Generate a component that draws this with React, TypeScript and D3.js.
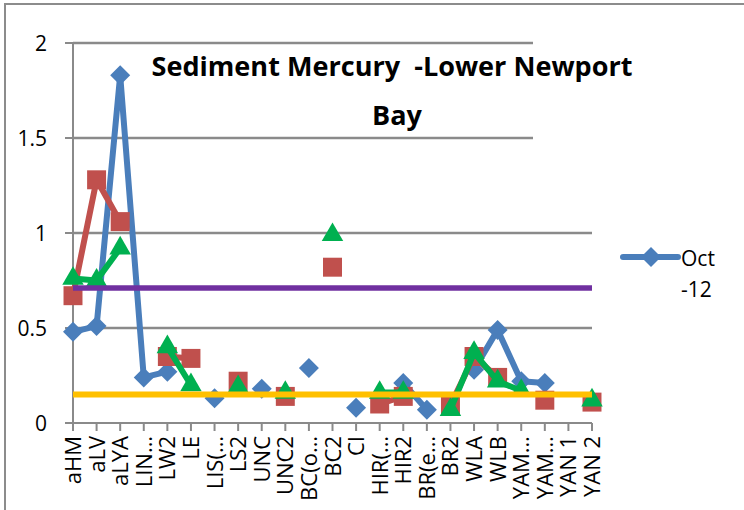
import * as d3 from "d3";

// sample sites along the x axis (index based, two YAM… labels repeat)
const categories = [
  "aHM", "aLV", "aLYA", "LIN…", "LW2", "LE", "LIS(…", "LS2", "UNC", "UNC2",
  "BC(o…", "BC2", "CI", "HIR(…", "HIR2", "BR(e…", "BR2", "WLA", "WLB",
  "YAM…", "YAM…", "YAN 1", "YAN 2",
];

// Oct-12 (blue diamonds)
const oct12 = [
  0.48, 0.51, 1.83, 0.24, 0.27, null, 0.13, null, 0.18, null,
  0.29, null, 0.08, null, 0.21, 0.07, null, 0.28, 0.49,
  0.22, 0.21, null, null,
];
// red squares
const seriesRed = [
  0.67, 1.28, 1.06, null, 0.35, 0.34, null, 0.22, null, 0.14,
  null, 0.82, null, 0.1, 0.14, null, 0.095, 0.35, 0.24,
  null, 0.12, null, 0.11,
];
// green triangles
const seriesGreen = [
  0.76, 0.75, 0.92, null, 0.4, 0.2, null, 0.19, null, 0.16,
  null, 0.99, null, 0.16, 0.16, null, 0.07, 0.37, 0.22,
  0.17, null, null, 0.12,
];

const yTicks = [0, 0.5, 1, 1.5, 2];
const purpleLevel = 0.71;
const yellowLevel = 0.15;

const FONT = "'Open Sans', 'Noto Sans', sans-serif";

const App = () => {
  const W = 744;
  const H = 510;
  const x = d3
    .scalePoint<number>()
    .domain(d3.range(categories.length))
    .range([73, 592]);
  const y = d3.scaleLinear().domain([0, 2]).range([423, 43]);

  const line = d3
    .line<number | null>()
    .defined((d) => d !== null)
    .x((_, i) => x(i) as number)
    .y((d) => y(d as number));

  const diamond = d3.symbol(d3.symbolSquare, 200)();
  const square = d3.symbol(d3.symbolSquare, 360)();
  const triangle = d3.symbol(d3.symbolTriangle, 200)();

  const blue = "#4A7EBB";
  const red = "#C0504D";
  const green = "#00B050";
  const grid = "#8A8A8A";

  const pts = (arr: (number | null)[]) =>
    arr
      .map((v, i) => ({ v, i }))
      .filter((d) => d.v !== null) as { v: number; i: number }[];

  return (
    <svg
      width={W}
      height={H}
      style={{ position: "absolute", left: 0, top: 0, background: "#fff" }}
      fontFamily={FONT}
    >
      {/* chart frame */}
      <rect x={5} y={4} width={W + 10} height={H + 10} fill="#fff" stroke="#8c8c8c" strokeWidth={2} />

      {/* gridlines */}
      {yTicks.slice(1).map((t) => (
        <line key={t} x1={73} x2={592} y1={y(t)} y2={y(t)} stroke={grid} strokeWidth={2.5} />
      ))}

      {/* title with white box */}
      <rect x={533} y={36} width={120} height={106} fill="#fff" />
      <text x={392} y={76} textAnchor="middle" fontWeight="bold" fontSize={27} textLength={481} lengthAdjust="spacingAndGlyphs" style={{ whiteSpace: "pre" }}>
        {"Sediment Mercury\u00A0 -Lower Newport"}
      </text>
      <text x={397} y={125} textAnchor="middle" fontWeight="bold" fontSize={27}>
        Bay
      </text>

      {/* y axis */}
      <line x1={73} x2={73} y1={y(2)} y2={y(0)} stroke={grid} strokeWidth={2} />
      {yTicks.map((t) => (
        <g key={t}>
          <line x1={65} x2={73} y1={y(t)} y2={y(t)} stroke={grid} strokeWidth={2} />
          <text x={47} y={y(t)} dy="0.36em" textAnchor="end" fontSize={21}>
            {t}
          </text>
        </g>
      ))}

      {/* x axis */}
      <line x1={73} x2={592} y1={y(0)} y2={y(0)} stroke={grid} strokeWidth={2} />
      {categories.map((c, i) => (
        <g key={i}>
          <line x1={x(i)} x2={x(i)} y1={y(0)} y2={y(0) + 8} stroke={grid} strokeWidth={2} />
          <text
            transform={`translate(${(x(i) as number) + 8},${y(0) + 13}) rotate(-90)`}
            textAnchor="end"
            fontSize={22}
          >
            {c}
          </text>
        </g>
      ))}

      {/* Oct-12 */}
      <path d={line(oct12) || ""} fill="none" stroke={blue} strokeWidth={6} strokeLinejoin="round" />
      {pts(oct12).map((d) => (
        <path key={d.i} d={diamond || ""} fill={blue} transform={`translate(${x(d.i)},${y(d.v)}) rotate(45)`} />
      ))}

      {/* red series */}
      <path d={line(seriesRed) || ""} fill="none" stroke={red} strokeWidth={6} strokeLinejoin="round" />
      {pts(seriesRed).map((d) => (
        <path key={d.i} d={square || ""} fill={red} transform={`translate(${x(d.i)},${y(d.v)})`} />
      ))}

      {/* green series */}
      <path d={line(seriesGreen) || ""} fill="none" stroke={green} strokeWidth={6} strokeLinejoin="round" />
      {pts(seriesGreen).map((d) => (
        <path key={d.i} d={triangle || ""} fill={green} transform={`translate(${x(d.i)},${y(d.v)})`} />
      ))}

      {/* reference levels */}
      <line x1={73} x2={592} y1={y(purpleLevel)} y2={y(purpleLevel)} stroke="#7030A0" strokeWidth={5.5} />
      <line x1={73} x2={592} y1={y(yellowLevel)} y2={y(yellowLevel)} stroke="#FFC000" strokeWidth={6} />

      {/* legend */}
      <line x1={623} x2={678} y1={257} y2={257} stroke={blue} strokeWidth={6} strokeLinecap="round" />
      <path d={diamond || ""} fill={blue} transform="translate(651,257) rotate(45)" />
      <text x={681} y={266} fontSize={21}>Oct</text>
      <text x={681} y={297} fontSize={21}>-12</text>
    </svg>
  );
};

export default App;
